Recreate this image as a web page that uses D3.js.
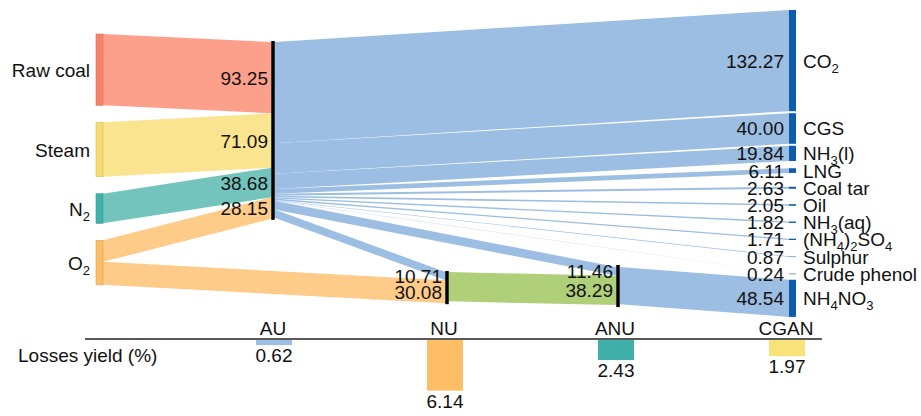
<!DOCTYPE html>
<html>
<head>
<meta charset="utf-8">
<script src="https://cdn.jsdelivr.net/npm/d3@7"></script>
<style>
  html, body { margin: 0; padding: 0; background: #fff; }
  svg { display: block; }
  text { font-family: "Liberation Sans", Arial, sans-serif; fill: #111; }
</style>
</head>
<body>
<svg id="chart" width="921" height="416"></svg>
<script>
// ---- data ----
const sources = ["Raw coal", "Steam", "N_2", "O_2"];
const sourceToAU = [93.25, 71.09, 38.68, 28.15];
const sourceToNU = [0, 0, 0, 30.08];

const auToNU = 10.71;
const auToANU = 11.46;
const nuToANU = 38.29;

const products = ["CO_2", "CGS", "NH_3(l)", "LNG", "Coal tar", "Oil", "NH_3(aq)",
                  "(NH_4)_2SO_4", "Sulphur", "Crude phenol", "NH_4NO_3"];
const productValues = [132.27, 40.00, 19.84, 6.11, 2.63, 2.05, 1.82, 1.71, 0.87, 0.24, 48.54];

const stages = ["AU", "NU", "ANU", "CGAN"];
const lossYield = [0.62, 6.14, 2.43, 1.97];

// ---- styles ----
const sourceLinkColors = ["#fca08b", "#fbe490", "#74c4be", "#fecb88"];
const sourceNodeColors = ["#f7836d", "#f6db70", "#40b1aa", "#fcbe64"];
const blueLink = "#9cbee2";
const greenLink = "#afcf79";
const productNode = "#0c5dab";
const lossColors = ["#9cbee2", "#fdbe66", "#40b1aa", "#f8e27a"];

const svg = d3.select("#chart");
const k = d3.scaleLinear().domain([0, 100]).range([0, 76.5]);      // flow -> px
const lossScale = d3.scaleLinear().domain([0, 1]).range([0, 8.25]);  // % -> px
const stageX = d3.scaleOrdinal().domain(stages).range([273, 447, 618, 789]);
const lossX = d3.scaleOrdinal().domain(stages).range([274, 445, 616, 787]);

const srcX = 96, nodeW = 7, barHalf = 1.5;
const FS = 19;

// text with "_d" marking a subscript digit
function richText(g, str, x, y, anchor) {
  const t = g.append("text").attr("x", x).attr("y", y)
    .attr("text-anchor", anchor).style("font-size", FS + "px");
  const parts = str.split(/(_\d)/).filter(p => p.length);
  let sub = false;
  parts.forEach(p => {
    if (p[0] === "_") {
      t.append("tspan").attr("dy", 5).style("font-size", "13px").text(p.slice(1));
      sub = true;
    } else {
      const ts = t.append("tspan").text(p);
      if (sub) { ts.attr("dy", -5); sub = false; }
    }
  });
  return t;
}

const line = d3.line();
function band(x0, a0, a1, x1, b0, b1) {
  return line([[x0, a0], [x1, b0], [x1, b1], [x0, a1]]) + "Z";
}

const links = [];
const labels = [];

// ---- source nodes ----
const srcNodes = [];
let yCur = 34;
sources.forEach((s, i) => {
  const h = k(sourceToAU[i] + sourceToNU[i]);
  srcNodes.push({ name: s, y0: yCur, y1: yCur + h });
  yCur += h + 17;
});

// ---- stage nodes ----
const auTop = 42;
const nuTop = 272;
const anuTop = 267;
const auX = stageX("AU"), nuX = stageX("NU"), anuX = stageX("ANU"), rX = stageX("CGAN");

// ---- product nodes ----
const prodNodes = [];
let prevY1 = 0, prevC = 0;
products.forEach((p, i) => {
  const h = k(productValues[i]);
  const y0 = i === 0 ? 10 : Math.max(prevY1 + 2, prevC + 17.2 - h / 2, prevC + 6);
  prodNodes.push({ name: p, value: productValues[i], y0, y1: y0 + h, c: y0 + h / 2 });
  prevY1 = y0 + h; prevC = y0 + h / 2;
});

// sources -> AU, O2 -> NU
let auIn = auTop;
let nuIn = nuTop + k(auToNU);
srcNodes.forEach((n, i) => {
  const h = k(sourceToAU[i]);
  links.push({ d: band(srcX + nodeW, n.y0, n.y0 + h, auX - barHalf, auIn, auIn + h), color: sourceLinkColors[i] });
  labels.push({ text: d3.format(".2f")(sourceToAU[i]), x: auX - 5, y: auIn + h / 2 });
  auIn += h;
  if (sourceToNU[i] > 0) {
    const h2 = k(sourceToNU[i]);
    links.push({ d: band(srcX + nodeW, n.y0 + h, n.y0 + h + h2, nuX - barHalf, nuIn, nuIn + h2), color: sourceLinkColors[i] });
    labels.push({ text: d3.format(".2f")(sourceToNU[i]), x: nuX - 5, y: nuIn + h2 / 2 });
  }
});
const auBottom = auIn;

// AU -> products
let auOut = auTop;
prodNodes.slice(0, 10).forEach(n => {
  const h = k(n.value);
  links.push({ d: band(auX + barHalf, auOut, auOut + h, rX, n.y0, n.y1), color: blueLink });
  auOut += h;
});
// AU -> ANU
{
  const h = k(auToANU);
  links.push({ d: band(auX + barHalf, auOut, auOut + h, anuX - barHalf, anuTop, anuTop + h), color: blueLink });
  labels.push({ text: d3.format(".2f")(auToANU), x: anuX - 5, y: anuTop + h / 2 });
  auOut += h;
}
// AU -> NU
{
  const h = k(auToNU);
  links.push({ d: band(auX + barHalf, auOut, auOut + h, nuX - barHalf, nuTop, nuTop + h), color: blueLink });
  labels.push({ text: d3.format(".2f")(auToNU), x: nuX - 5, y: nuTop + h / 2 });
  auOut += h;
}
// NU -> ANU
{
  const h = k(nuToANU);
  const t0 = anuTop + k(auToANU);
  links.push({ d: band(nuX + barHalf, nuTop, nuTop + h, anuX - barHalf, t0, t0 + h), color: greenLink });
  labels.push({ text: d3.format(".2f")(nuToANU), x: anuX - 5, y: t0 + h / 2 });
}
// ANU -> NH4NO3
{
  const n = prodNodes[10];
  links.push({ d: band(anuX + barHalf, anuTop, anuTop + k(n.value), rX, n.y0, n.y1), color: blueLink });
}

// ---- draw links ----
svg.append("g").selectAll("path").data(links).join("path")
  .attr("d", d => d.d).attr("fill", d => d.color);

// ---- source nodes ----
svg.append("g").selectAll("rect").data(srcNodes).join("rect")
  .attr("x", srcX).attr("y", d => d.y0).attr("width", nodeW).attr("height", d => d.y1 - d.y0)
  .attr("fill", (d, i) => sourceNodeColors[i])
  .attr("stroke", (d, i) => d3.color(sourceNodeColors[i]).darker(0.4)).attr("stroke-width", 0.6);
const gSrcLab = svg.append("g");
srcNodes.forEach(n => richText(gSrcLab, n.name, 90, (n.y0 + n.y1) / 2 + 7, "end"));

// ---- stage bars ----
const stageBars = [
  { x: auX, y0: auTop - 1, y1: auBottom + 1 },
  { x: nuX, y0: nuTop - 1, y1: nuTop + k(auToNU + sourceToNU[3]) + 1 },
  { x: anuX, y0: anuTop - 2, y1: anuTop + k(auToANU + nuToANU) + 2 }
];
svg.append("g").selectAll("line").data(stageBars).join("line")
  .attr("x1", d => d.x).attr("x2", d => d.x).attr("y1", d => d.y0).attr("y2", d => d.y1)
  .attr("stroke", "#000").attr("stroke-width", 3.5);

// ---- product nodes ----
svg.append("g").selectAll("rect").data(prodNodes).join("rect")
  .attr("x", rX).attr("y", d => d.y1 - d.y0 < 1.2 ? d.c - 0.6 : d.y0)
  .attr("width", nodeW).attr("height", d => Math.max(d.y1 - d.y0, 1.2))
  .attr("fill", productNode)
  .attr("fill-opacity", d => d.value < 1 ? 0.45 : 1);

const gProdLab = svg.append("g");
prodNodes.forEach(n => {
  gProdLab.append("text").attr("x", rX - 5).attr("y", n.c + 7).attr("text-anchor", "end")
    .style("font-size", FS + "px").text(d3.format(".2f")(n.value));
  richText(gProdLab, n.name, rX + 14, n.c + 7, "start");
});

// ---- flow value labels ----
svg.append("g").selectAll("text").data(labels).join("text")
  .attr("x", d => d.x).attr("y", d => d.y + 7).attr("text-anchor", "end")
  .style("font-size", FS + "px").text(d => d.text);

// ---- losses panel ----
const axisY = 339;
const gL = svg.append("g");
gL.append("line").attr("x1", 85).attr("x2", 822).attr("y1", axisY).attr("y2", axisY)
  .attr("stroke", "#222").attr("stroke-width", 1.6);
gL.selectAll("text.stage").data(stages).join("text").attr("class", "stage")
  .attr("x", d => lossX(d) - 1).attr("y", axisY - 4).attr("text-anchor", "middle")
  .style("font-size", FS + "px").text(d => d);
gL.selectAll("rect").data(lossYield).join("rect")
  .attr("x", (d, i) => lossX(stages[i]) - 18).attr("y", axisY + 1)
  .attr("width", 36).attr("height", d => lossScale(d))
  .attr("fill", (d, i) => lossColors[i]);
gL.selectAll("text.val").data(lossYield).join("text").attr("class", "val")
  .attr("x", (d, i) => lossX(stages[i])).attr("y", d => axisY + 1 + lossScale(d) + 17)
  .attr("text-anchor", "middle").style("font-size", FS + "px").text(d => d3.format(".2f")(d));
gL.append("text").attr("x", 18).attr("y", 362).style("font-size", FS + "px").text("Losses yield (%)");
</script>
</body>
</html>
